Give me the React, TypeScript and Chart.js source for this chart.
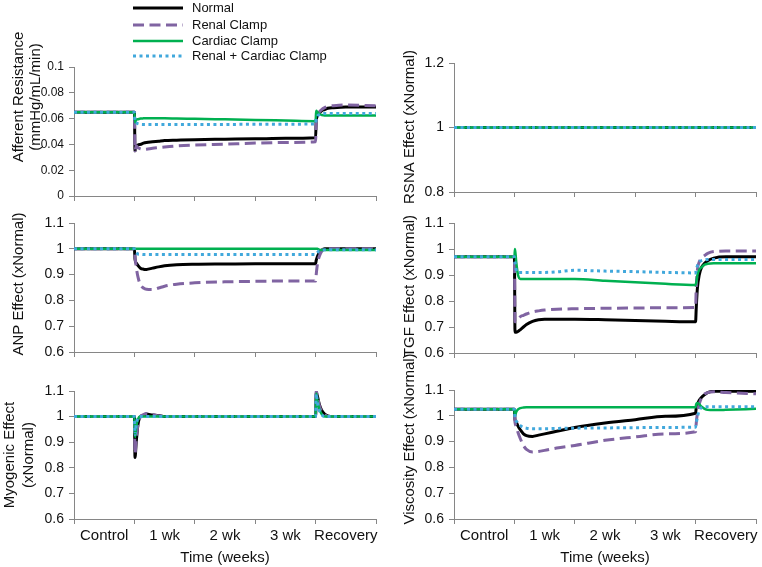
import React, { useEffect, useRef } from 'react';
import { Chart, registerables } from 'chart.js';

Chart.register(...registerables);

// ---------- DATA ----------
const seriesNames = ['Normal', 'Renal Clamp', 'Cardiac Clamp', 'Renal + Cardiac Clamp'];
const xLabels = ['Control', '1 wk', '2 wk', '3 wk', 'Recovery'];
const xTickValues = [0, 0.5, 1, 1.5, 2, 2.5, 3, 3.5, 4, 4.5, 5];

// time in weeks (0-1 control, 1-4 clamp, 4-5 recovery)
const timeWeeks = [0, 1, 1.01, 1.03, 1.06, 1.1, 1.15, 1.2, 1.3, 1.4, 1.5, 1.7, 2, 2.5, 3, 3.5, 4, 4.01, 4.03, 4.06, 4.1, 4.15, 4.2, 4.3, 4.5, 5];
const rsnaTime = [0, 1, 4, 5];

const affTicks = [0, 0.02, 0.04, 0.06, 0.08, 0.1];
const rsnaTicks = [0.8, 1, 1.2];
const effectTicks = [0.6, 0.7, 0.8, 0.9, 1, 1.1];

// Afferent resistance (mmHg/mL/min)
const affNormal = [0.065, 0.065, 0.035, 0.038, 0.0395, 0.040, 0.041, 0.0415, 0.042, 0.0425, 0.043, 0.0433, 0.0437, 0.044, 0.0443, 0.0447, 0.0452, 0.058, 0.062, 0.064, 0.066, 0.067, 0.068, 0.0685, 0.069, 0.069];
const affRenal = [0.065, 0.065, 0.035, 0.039, 0.0375, 0.0365, 0.036, 0.0362, 0.037, 0.0375, 0.038, 0.0388, 0.0395, 0.0402, 0.041, 0.0415, 0.042, 0.058, 0.062, 0.065, 0.067, 0.0685, 0.0695, 0.070, 0.0705, 0.070];
const affCardiac = [0.065, 0.065, 0.057, 0.059, 0.0595, 0.060, 0.0602, 0.0603, 0.0603, 0.0602, 0.0602, 0.060, 0.0598, 0.0594, 0.059, 0.0585, 0.058, 0.066, 0.065, 0.0635, 0.0628, 0.0625, 0.0625, 0.0625, 0.0625, 0.0625];
const affBoth = [0.065, 0.065, 0.057, 0.0565, 0.056, 0.0556, 0.0555, 0.0555, 0.0555, 0.0555, 0.0555, 0.0555, 0.0555, 0.0555, 0.0556, 0.0557, 0.0558, 0.06, 0.062, 0.063, 0.0638, 0.064, 0.064, 0.064, 0.064, 0.064];

// RSNA effect
const rsnaNormal = [1, 1, 1, 1];
const rsnaRenal = [1, 1, 1, 1];
const rsnaCardiac = [1, 1, 1, 1];
const rsnaBoth = [1, 1, 1, 1];

// ANP effect
const anpNormal = [1, 1, 0.96, 0.945, 0.935, 0.925, 0.921, 0.92, 0.925, 0.93, 0.934, 0.938, 0.94, 0.941, 0.942, 0.942, 0.942, 0.955, 0.97, 0.985, 0.995, 1.0, 1.0, 1.0, 1.0, 1.0];
const anpRenal = [1, 1, 0.97, 0.93, 0.89, 0.86, 0.848, 0.843, 0.842, 0.848, 0.855, 0.863, 0.868, 0.872, 0.874, 0.875, 0.875, 0.9, 0.94, 0.97, 0.99, 1.0, 1.0, 1.0, 1.0, 1.0];
const anpCardiac = [1, 1, 1, 1, 1, 1, 1, 1, 1, 1, 1, 1, 1, 1, 1, 1, 1, 1, 1, 0.997, 0.995, 0.995, 0.995, 0.995, 0.995, 0.995];
const anpBoth = [1, 1, 0.99, 0.985, 0.98, 0.979, 0.978, 0.978, 0.978, 0.978, 0.978, 0.978, 0.978, 0.978, 0.978, 0.978, 0.978, 0.98, 0.985, 0.992, 0.995, 0.996, 0.996, 0.996, 0.996, 0.996];

// TGF effect
const tgfNormal = [0.97, 0.97, 0.68, 0.68, 0.683, 0.69, 0.70, 0.71, 0.722, 0.728, 0.73, 0.73, 0.73, 0.728, 0.725, 0.722, 0.72, 0.77, 0.85, 0.9, 0.93, 0.945, 0.955, 0.965, 0.97, 0.97];
const tgfRenal = [0.97, 0.97, 0.72, 0.72, 0.73, 0.74, 0.745, 0.75, 0.758, 0.762, 0.765, 0.768, 0.77, 0.772, 0.773, 0.774, 0.775, 0.85, 0.92, 0.95, 0.965, 0.975, 0.983, 0.99, 0.992, 0.992];
const tgfCardiac = [0.97, 0.97, 1.0, 0.95, 0.9, 0.885, 0.885, 0.885, 0.885, 0.885, 0.885, 0.885, 0.885, 0.878, 0.872, 0.866, 0.862, 0.87, 0.9, 0.92, 0.93, 0.94, 0.943, 0.945, 0.945, 0.945];
const tgfBoth = [0.97, 0.97, 0.95, 0.92, 0.91, 0.91, 0.91, 0.91, 0.91, 0.91, 0.91, 0.912, 0.918, 0.915, 0.913, 0.91, 0.908, 0.92, 0.935, 0.95, 0.955, 0.958, 0.96, 0.96, 0.96, 0.96];

// Myogenic effect
const myoNormal = [1, 1, 0.84, 0.9, 0.97, 1.0, 1.005, 1.01, 1.006, 1.004, 1.0, 1.0, 1.0, 1.0, 1.0, 1.0, 1.0, 1.095, 1.08, 1.05, 1.025, 1.01, 1.003, 1.0, 1.0, 1.0];
const myoRenal = [1, 1, 0.855, 0.91, 0.97, 1.0, 1.008, 1.012, 1.008, 1.003, 1.0, 1.0, 1.0, 1.0, 1.0, 1.0, 1.0, 1.1, 1.08, 1.045, 1.02, 1.008, 1.0, 1.0, 1.0, 1.0];
const myoCardiac = [1, 1, 0.92, 0.96, 0.99, 1.0, 1.0, 1.0, 1.0, 1.0, 1.0, 1.0, 1.0, 1.0, 1.0, 1.0, 1.0, 1.09, 1.06, 1.03, 1.01, 1.0, 1.0, 1.0, 1.0, 1.0];
const myoBoth = [1, 1, 0.93, 0.97, 0.995, 1.0, 1.0, 1.0, 1.0, 1.0, 1.0, 1.0, 1.0, 1.0, 1.0, 1.0, 1.0, 1.09, 1.055, 1.025, 1.008, 1.0, 1.0, 1.0, 1.0, 1.0];

// Viscosity effect
const viscNormal = [1.025, 1.025, 0.985, 0.975, 0.96, 0.945, 0.93, 0.923, 0.92, 0.925, 0.93, 0.94, 0.955, 0.972, 0.985, 0.998, 1.01, 1.03, 1.045, 1.06, 1.072, 1.082, 1.09, 1.095, 1.095, 1.095];
const viscRenal = [1.025, 1.025, 0.975, 0.96, 0.935, 0.91, 0.885, 0.87, 0.86, 0.862, 0.866, 0.875, 0.885, 0.905, 0.918, 0.93, 0.938, 0.97, 1.01, 1.045, 1.07, 1.085, 1.09, 1.093, 1.09, 1.085];
const viscCardiac = [1.025, 1.025, 1.0, 1.015, 1.025, 1.03, 1.032, 1.033, 1.033, 1.033, 1.033, 1.033, 1.033, 1.033, 1.033, 1.033, 1.033, 1.045, 1.05, 1.045, 1.035, 1.027, 1.023, 1.022, 1.023, 1.027];
const viscBoth = [1.025, 1.025, 0.99, 0.98, 0.97, 0.962, 0.955, 0.952, 0.95, 0.95, 0.95, 0.951, 0.952, 0.953, 0.954, 0.955, 0.956, 0.97, 0.995, 1.02, 1.032, 1.035, 1.035, 1.035, 1.035, 1.035];

// ---------- STYLE ----------
const FONT = "'Liberation Sans', Arial, Helvetica, sans-serif";
const AXIS = '#868686';
const TEXT = '#111111';
const colors = ['#000000', '#8064a2', '#00b050', '#41a8dc'];
const widths = [3, 3, 2.5, 3];
const dashes: number[][] = [[], [11, 5.5], [], [3, 3.5]];
const PAGE_W = 762;
const PAGE_H = 567;
const COLS = [
  { x: 0, w: 380, left: 74, right: 376 },
  { x: 380, w: 382, left: 454, right: 756 },
];

type PanelDef = {
  col: number;
  top: number;
  bottom: number;
  ticks: number[];
  tickFont: number;
  title: string[];
  titleXs: number[];
  titleY: number;
  time: number[];
  series: number[][];
  showX: boolean;
  legend?: boolean;
};

const panels: PanelDef[] = [
  { col: 0, top: 67, bottom: 196, ticks: affTicks, tickFont: 12, title: ['Afferent Resistance', '(mmHg/mL/min)'], titleXs: [19, 35.5], titleY: 97, time: timeWeeks, series: [affNormal, affRenal, affCardiac, affBoth], showX: false, legend: true },
  { col: 0, top: 223, bottom: 352, ticks: effectTicks, tickFont: 14, title: ['ANP Effect (xNormal)'], titleXs: [19], titleY: 284, time: timeWeeks, series: [anpNormal, anpRenal, anpCardiac, anpBoth], showX: false },
  { col: 0, top: 391, bottom: 519, ticks: effectTicks, tickFont: 14, title: ['Myogenic Effect', '(xNormal)'], titleXs: [10, 29], titleY: 455, time: timeWeeks, series: [myoNormal, myoRenal, myoCardiac, myoBoth], showX: true },
  { col: 1, top: 63, bottom: 192, ticks: rsnaTicks, tickFont: 14, title: ['RSNA Effect (xNormal)'], titleXs: [410], titleY: 127, time: rsnaTime, series: [rsnaNormal, rsnaRenal, rsnaCardiac, rsnaBoth], showX: false },
  { col: 1, top: 223, bottom: 353, ticks: effectTicks, tickFont: 14, title: ['TGF Effect (xNormal)'], titleXs: [410], titleY: 286, time: timeWeeks, series: [tgfNormal, tgfRenal, tgfCardiac, tgfBoth], showX: false },
  { col: 1, top: 390, bottom: 519, ticks: effectTicks, tickFont: 14, title: ['Viscosity Effect (xNormal)'], titleXs: [410], titleY: 439, time: timeWeeks, series: [viscNormal, viscRenal, viscCardiac, viscBoth], showX: true },
];

const legendYs = [8, 25, 41, 56];

function PanelChart({ p }: { p: PanelDef }) {
  const ref = useRef<HTMLCanvasElement | null>(null);
  const col = COLS[p.col];
  useEffect(() => {
    if (!ref.current) return;
    const xAxisH = p.showX ? 48 : 6;
    const titlePlugin = {
      id: 'yTitleCustom',
      afterDraw(chart: any) {
        const ctx = chart.ctx;
        ctx.save();
        ctx.fillStyle = TEXT;
        ctx.font = `15px ${FONT}`;
        ctx.textAlign = 'center';
        ctx.textBaseline = 'middle';
        p.title.forEach((line, i) => {
          ctx.save();
          ctx.translate(p.titleXs[i] - col.x, p.titleY);
          ctx.rotate(-Math.PI / 2);
          ctx.fillText(line, 0, 0);
          ctx.restore();
        });
        ctx.restore();
      },
    };
    const legendPlugin = {
      id: 'legendCustom',
      afterDraw(chart: any) {
        if (!p.legend) return;
        const ctx = chart.ctx;
        ctx.save();
        seriesNames.forEach((name, i) => {
          const y = legendYs[i];
          ctx.beginPath();
          ctx.strokeStyle = colors[i];
          ctx.lineWidth = widths[i];
          ctx.setLineDash(dashes[i]);
          ctx.moveTo(133 - col.x, y);
          ctx.lineTo(183 - col.x, y);
          ctx.stroke();
          ctx.setLineDash([]);
          ctx.fillStyle = TEXT;
          ctx.font = `13px ${FONT}`;
          ctx.textAlign = 'left';
          ctx.textBaseline = 'middle';
          ctx.fillText(name, 192 - col.x, y);
        });
        ctx.restore();
      },
    };
    const chart = new Chart(ref.current, {
      type: 'line',
      data: {
        datasets: seriesNames.map((name, i) => ({
          label: name,
          data: p.time.map((t, j) => ({ x: t, y: p.series[i][j] })),
          borderColor: colors[i],
          backgroundColor: colors[i],
          borderWidth: widths[i],
          borderDash: dashes[i],
          borderCapStyle: 'butt',
          borderJoinStyle: 'round',
          pointRadius: 0,
          pointHoverRadius: 0,
          fill: false,
          cubicInterpolationMode: 'monotone',
          order: 3 - i,
        })),
      },
      options: {
        responsive: false,
        maintainAspectRatio: false,
        animation: false,
        devicePixelRatio: 1,
        events: [],
        layout: {
          padding: {
            top: p.top,
            bottom: PAGE_H - p.bottom - xAxisH,
            left: 0,
            right: col.x + col.w - col.right,
          },
        },
        plugins: {
          legend: { display: false },
          tooltip: { enabled: false },
          title: { display: false },
        },
        scales: {
          x: {
            type: 'linear',
            min: 0,
            max: 5,
            afterBuildTicks: (s: any) => {
              s.ticks = xTickValues.map((v) => ({ value: v }));
            },
            afterFit: (s: any) => {
              s.height = xAxisH;
            },
            grid: {
              display: true,
              drawOnChartArea: false,
              drawTicks: true,
              tickLength: 5,
              tickWidth: 1,
              tickColor: (c: any) => (c.tick && Number.isInteger(c.tick.value) ? AXIS : 'rgba(0,0,0,0)'),
            },
            border: { display: true, color: AXIS, width: 1 },
            ticks: {
              display: p.showX,
              autoSkip: false,
              maxRotation: 0,
              minRotation: 0,
              padding: 3,
              color: TEXT,
              font: { family: FONT, size: 15 },
              callback: (v: any) => (Number.isInteger(Number(v)) ? '' : xLabels[Math.floor(Number(v))]),
            },
            title: {
              display: p.showX,
              text: 'Time (weeks)',
              color: TEXT,
              font: { family: FONT, size: 15 },
              padding: { top: 0, bottom: 0 },
            },
          },
          y: {
            type: 'linear',
            min: p.ticks[0],
            max: p.ticks[p.ticks.length - 1],
            afterBuildTicks: (s: any) => {
              s.ticks = p.ticks.map((v) => ({ value: v }));
            },
            afterFit: (s: any) => {
              s.width = col.left - col.x;
            },
            grid: {
              display: true,
              drawOnChartArea: false,
              drawTicks: true,
              tickLength: 5,
              tickColor: AXIS,
            },
            border: { display: true, color: AXIS, width: 1 },
            ticks: {
              padding: 5,
              color: TEXT,
              font: { family: FONT, size: p.tickFont },
              callback: (v: any) => String(Math.round(Number(v) * 1000) / 1000),
            },
          },
        },
      } as any,
      plugins: [titlePlugin, legendPlugin],
    });
    return () => chart.destroy();
  }, []);
  return (
    <canvas
      ref={ref}
      width={col.w}
      height={PAGE_H}
      style={{ position: 'absolute', left: col.x, top: 0, width: col.w, height: PAGE_H }}
    />
  );
}

export default function App() {
  return (
    <div style={{ position: 'absolute', left: 0, top: 0, width: PAGE_W, height: PAGE_H, background: '#ffffff', overflow: 'hidden' }}>
      {panels.map((p, i) => (
        <PanelChart key={i} p={p} />
      ))}
    </div>
  );
}
